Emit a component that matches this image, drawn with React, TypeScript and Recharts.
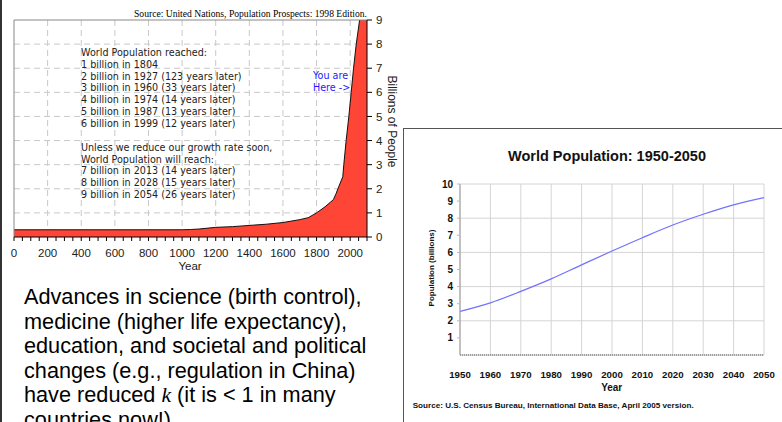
import { AreaChart, Area, LineChart, Line, XAxis, YAxis, CartesianGrid, ReferenceLine } from 'recharts';

// left panel: UN long-run population (billions)
const historyYears = [0, 1000, 1050, 1100, 1200, 1300, 1400, 1500, 1600, 1700, 1750, 1800, 1850, 1900, 1916, 1927, 1956, 1962, 1976, 1992, 2006, 2020, 2036, 2056, 2100];
const historyBillions = [0.3, 0.3, 0.31, 0.33, 0.4, 0.43, 0.48, 0.53, 0.6, 0.72, 0.8, 1.0, 1.25, 1.55, 1.8, 2.0, 2.5, 3.0, 4.0, 5.0, 6.0, 7.0, 8.0, 9.0, 10.5];
const historyYTicks = [0, 1, 2, 3, 4, 5, 6, 7, 8, 9];
const historyXTicks = Array.from({ length: 43 }, (_, i) => i * 50);
const historyGridX = [200, 400, 600, 800, 1000, 1200, 1400, 1600, 1800, 2000];
const historyGridY = [1, 2, 3, 4, 5, 6, 7, 8];

const reachedLines = [
  'World Population reached:',
  '1 billion in 1804',
  '2 billion in 1927 (123 years later)',
  '3 billion in 1960 (33 years later)',
  '4 billion in 1974 (14 years later)',
  '5 billion in 1987 (13 years later)',
  '6 billion in 1999 (12 years later)',
];
const forecastLines = [
  'Unless we reduce our growth rate soon,',
  'World Population will reach:',
  '7 billion in 2013 (14 years later)',
  '8 billion in 2028 (15 years later)',
  '9 billion in 2054 (26 years later)',
];

// right panel: Census Bureau 1950-2050
const censusYears = [1950, 1960, 1970, 1980, 1990, 2000, 2010, 2020, 2030, 2040, 2050];
const censusBillions = [2.55, 3.05, 3.72, 4.45, 5.27, 6.08, 6.86, 7.6, 8.23, 8.78, 9.2];
const censusYTicks = [1, 2, 3, 4, 5, 6, 7, 8, 9, 10];

const slideLines = [
  'Advances in science (birth control),',
  'medicine (higher life expectancy),',
  'education, and societal and political',
  'changes (e.g., regulation in China)',
];

const historyData = historyYears.map((year, i) => ({ year, pop: historyBillions[i] }));
const censusData = censusYears.map((year, i) => ({ year, pop: censusBillions[i] }));

const geneva = 'DejaVu Sans';

export default function App() {
  return (
    <div
      style={{
        position: 'absolute',
        left: 0,
        top: 0,
        width: 782,
        height: 422,
        overflow: 'hidden',
        background: '#fff',
        fontFamily: '"Liberation Sans", Arial, sans-serif',
      }}
    >
      <div style={{ position: 'absolute', left: 0, top: 0 }}>
        <AreaChart width={400} height={275} data={historyData} margin={{ top: 20, left: 14, right: 3, bottom: 8 }}>
          <CartesianGrid
            stroke="#c8c8c8"
            strokeDasharray="6 4"
            horizontalValues={historyGridY}
            verticalValues={historyGridX}
          />
          <XAxis
            dataKey="year"
            type="number"
            domain={[0, 2100]}
            ticks={historyXTicks}
            interval={0}
            height={30}
            tickSize={4}
            tickMargin={8}
            axisLine={{ stroke: '#000' }}
            tickLine={{ stroke: '#000' }}
            tick={{ fontSize: 11.5, fill: '#222' }}
            tickFormatter={(v: number) => (v % 200 === 0 && v <= 2000 ? String(v) : '')}
          />
          <YAxis
            orientation="right"
            width={30}
            domain={[0, 9]}
            ticks={historyYTicks}
            allowDataOverflow
            tickSize={5}
            tickMargin={4}
            axisLine={{ stroke: '#000' }}
            tickLine={{ stroke: '#000' }}
            tick={{ fontSize: 11.5, fill: '#222' }}
          />
          <ReferenceLine y={9} stroke="#888" />
          <ReferenceLine x={0} stroke="#888" />
          <Area
            type="linear"
            dataKey="pop"
            stroke="#111"
            strokeWidth={1}
            fill="#ff4536"
            fillOpacity={1}
            isAnimationActive={false}
          />
        </AreaChart>
      </div>

      <div style={{ position: 'absolute', left: 400, top: 127 }}>
        <LineChart width={382} height={295} data={censusData} margin={{ top: 57, left: 0, right: 18, bottom: 37 }}>
          <CartesianGrid stroke="#d4d4d4" />
          <ReferenceLine y={0} stroke="#ccc" />
          <XAxis
            dataKey="year"
            type="number"
            domain={[1950, 2050]}
            ticks={censusYears}
            interval={0}
            height={30}
            tickLine={false}
            tickMargin={10}
            axisLine={{ stroke: '#666', strokeDasharray: '1 1' }}
            tick={{ fontSize: 9.7, fontWeight: 'bold', fill: '#111' }}
          />
          <YAxis
            width={60}
            domain={[0, 10]}
            ticks={censusYTicks}
            tickSize={3}
            tickMargin={4}
            axisLine={{ stroke: '#999' }}
            tickLine={{ stroke: '#bbb' }}
            tick={{ fontSize: 10, fontWeight: 'bold', fill: '#111' }}
          />
          <Line type="monotone" dataKey="pop" stroke="#7272ff" strokeWidth={1.2} dot={false} isAnimationActive={false} />
        </LineChart>
      </div>

      <svg
        width={782}
        height={422}
        style={{ position: 'absolute', left: 0, top: 0, pointerEvents: 'none' }}
      >
        <rect x={0} y={0} width={2} height={422} fill="#333" />
        <rect x={403.5} y={128.5} width={420} height={400} fill="none" stroke="#555" />

        <text x={134} y={17} fontFamily="Liberation Serif" fontSize={9.5} fill="#000" textLength={233} lengthAdjust="spacingAndGlyphs">
          Source: United Nations, Population Prospects: 1998 Edition.
        </text>
        {reachedLines.map((t, i) => (
          <text key={t} x={81} y={56 + i * 11.8} fontFamily={geneva} fontSize={9.6} fill="#222">
            {t}
          </text>
        ))}
        {forecastLines.map((t, i) => (
          <text key={t} x={81} y={151 + i * 11.7} fontFamily={geneva} fontSize={9.6} fill="#222">
            {t}
          </text>
        ))}
        <text x={313} y={79.3} fontFamily={geneva} fontSize={9.6} fill="#1a1aff">You are</text>
        <text x={313} y={91.2} fontFamily={geneva} fontSize={9.6} fill="#1a1aff">Here -&gt;</text>
        <text x={190} y={270} fontSize={11.5} fill="#222" textAnchor="middle">Year</text>
        <text
          transform="translate(392,121.5) rotate(90)"
          fontSize={12}
          fill="#222"
          textAnchor="middle"
          dominantBaseline="central"
        >
          Billions of People
        </text>

        <text x={607} y={160.5} fontSize={14.5} fontWeight="bold" fill="#111" textAnchor="middle">
          World Population: 1950-2050
        </text>
        <text
          transform="translate(431,268) rotate(-90)"
          fontSize={8}
          fontWeight="bold"
          fill="#111"
          textAnchor="middle"
          dominantBaseline="central"
        >
          Population (billions)
        </text>
        <text x={611.7} y={391} fontSize={10} fontWeight="bold" fill="#111" textAnchor="middle">Year</text>
        <text x={412.7} y={408.4} fontSize={7.5} fontWeight="bold" fill="#111" textLength={281} lengthAdjust="spacingAndGlyphs">
          Source: U.S. Census Bureau, International Data Base, April 2005 version.
        </text>

        {slideLines.map((t, i) => (
          <text key={t} x={24} y={304.3 + i * 24.5} fontSize={21.7} fill="#000">
            {t}
          </text>
        ))}
        <text x={24} y={402.3} fontSize={21.7} fill="#000">
          have reduced <tspan fontFamily="Liberation Serif" fontStyle="italic">k</tspan> (it is &lt; 1 in many
        </text>
        <text x={24} y={426.8} fontSize={21.7} fill="#000">countries now!)</text>
      </svg>
    </div>
  );
}
